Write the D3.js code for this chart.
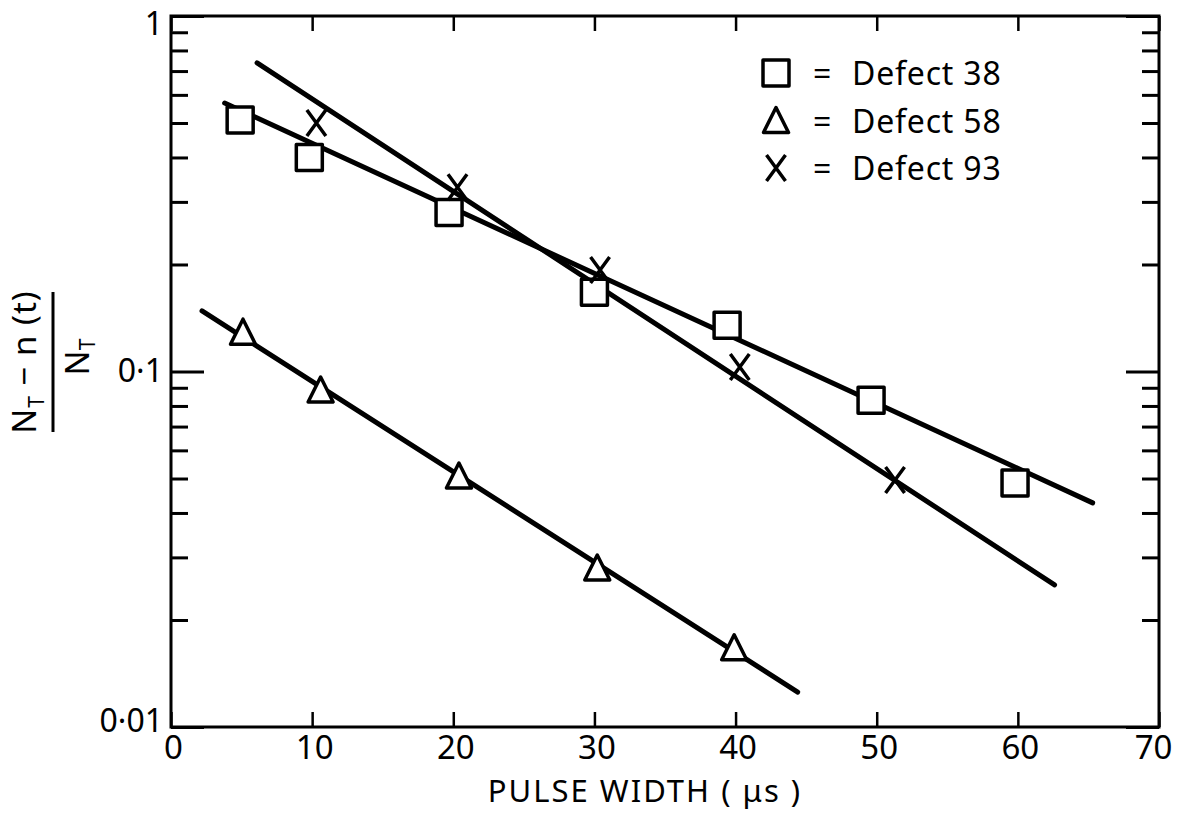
<!DOCTYPE html>
<html lang="en">
<head>
    <meta charset="UTF-8">
    <title>Pulse Width Decay</title>
    <script src="https://d3js.org/d3.v7.min.js"></script>
    <style>
        body { margin: 0; background: #fff; }
        text { font-family: "Noto Sans", "DejaVu Sans", sans-serif; fill: #000; }
    </style>
</head>
<body>
    <svg id="chart" width="1178" height="815"></svg>

    <script>
        // Tick values and labels
        const xTicks = [0, 10, 20, 30, 40, 50, 60, 70];
        const yMajor = [0.01, 0.1, 1];
        const yMajorLabels = ["0·01", "0·1", "1"];
        const yMinor = [0.02, 0.03, 0.04, 0.05, 0.06, 0.07, 0.08, 0.09,
                        0.2, 0.3, 0.4, 0.5, 0.6, 0.7, 0.8, 0.9];

        // Measured points (pulse width in us, fraction)
        const defect38X = [4.9, 9.8, 19.7, 30.0, 39.4, 49.6, 59.8];
        const defect38Y = [0.51, 0.40, 0.28, 0.167, 0.135, 0.083, 0.0486];
        const defect58X = [5.1, 10.6, 20.4, 30.2, 39.9];
        const defect58Y = [0.129, 0.0887, 0.0508, 0.028, 0.0167];
        const defect93X = [10.3, 20.3, 30.4, 40.3, 51.3];
        const defect93Y = [0.50, 0.33, 0.193, 0.103, 0.0495];

        // Fitted straight lines (end points)
        const fit38X = [3.8, 65.3];
        const fit38Y = [0.569, 0.0427];
        const fit58X = [2.2, 44.4];
        const fit58Y = [0.148, 0.01254];
        const fit93X = [6.1, 62.6];
        const fit93Y = [0.738, 0.0251];

        const legendLabels = ["Defect 38", "Defect 58", "Defect 93"];

        // Plot frame
        const plotLeft = 171, plotRight = 1159, plotTop = 16, plotBottom = 727;

        const svg = d3.select("#chart");

        const x = d3.scaleLinear().domain([0, 70]).range([plotLeft, plotRight]);
        const y = d3.scaleLog().domain([0.01, 1]).range([plotBottom, plotTop]);

        // Bottom axis with labels
        svg.append("g")
            .attr("transform", "translate(0," + plotBottom + ")")
            .call(d3.axisBottom(x).tickValues(xTicks).tickSizeInner(-15).tickSizeOuter(0).tickPadding(9))
            .call(g => g.select(".domain").remove())
            .call(g => g.selectAll("line").attr("stroke-width", 2.5))
            .call(g => g.selectAll("text")
                .attr("x", d => d === 70 ? -6 : 2)
                .attr("font-size", 33)
                .attr("fill", "#000")
                .attr("font-family", "Noto Sans, DejaVu Sans, sans-serif"));

        // Top axis, ticks only
        svg.append("g")
            .attr("transform", "translate(0," + plotTop + ")")
            .call(d3.axisTop(x).tickValues(xTicks).tickSizeInner(-15).tickSizeOuter(0).tickFormat(""))
            .call(g => g.select(".domain").remove())
            .call(g => g.selectAll("line").attr("stroke-width", 2.5));

        // Left axis: major ticks with labels
        const labelShift = [-6, 0, 8];
        svg.append("g")
            .attr("transform", "translate(" + plotLeft + ",0)")
            .call(d3.axisLeft(y).tickValues(yMajor).tickSizeInner(-33).tickSizeOuter(0).tickPadding(8)
                .tickFormat((d, i) => yMajorLabels[i]))
            .call(g => g.select(".domain").remove())
            .call(g => g.selectAll("line").attr("stroke-width", 3))
            .call(g => g.selectAll("text")
                .attr("y", (d, i) => labelShift[i])
                .attr("font-size", 32)
                .attr("fill", "#000")
                .attr("font-family", "Noto Sans, DejaVu Sans, sans-serif"));

        // Left axis: minor ticks
        svg.append("g")
            .attr("transform", "translate(" + plotLeft + ",0)")
            .call(d3.axisLeft(y).tickValues(yMinor).tickSizeInner(-17).tickSizeOuter(0).tickFormat(""))
            .call(g => g.select(".domain").remove())
            .call(g => g.selectAll("line").attr("stroke-width", 3));

        // Right axis: major and minor ticks
        svg.append("g")
            .attr("transform", "translate(" + plotRight + ",0)")
            .call(d3.axisRight(y).tickValues(yMajor).tickSizeInner(-33).tickSizeOuter(0).tickFormat(""))
            .call(g => g.select(".domain").remove())
            .call(g => g.selectAll("line").attr("stroke-width", 3));

        svg.append("g")
            .attr("transform", "translate(" + plotRight + ",0)")
            .call(d3.axisRight(y).tickValues(yMinor).tickSizeInner(-17).tickSizeOuter(0).tickFormat(""))
            .call(g => g.select(".domain").remove())
            .call(g => g.selectAll("line").attr("stroke-width", 3));

        // Frame
        svg.append("rect")
            .attr("x", plotLeft)
            .attr("y", plotTop)
            .attr("width", plotRight - plotLeft)
            .attr("height", plotBottom - plotTop)
            .attr("fill", "none")
            .attr("stroke", "#000")
            .attr("stroke-width", 3);

        // Fit lines
        const fits = [[fit38X, fit38Y], [fit58X, fit58Y], [fit93X, fit93Y]];
        const line = d3.line().x(d => x(d[0])).y(d => y(d[1]));
        fits.forEach(f => {
            svg.append("path")
                .datum(d3.zip(f[0], f[1]))
                .attr("d", line)
                .attr("fill", "none")
                .attr("stroke", "#000")
                .attr("stroke-width", 5)
                .attr("stroke-linecap", "round");
        });

        // Marker shapes
        const squarePath = "M-13,-13H13V13H-13Z";
        const trianglePath = "M0,-13L12.5,12L-12.5,12Z";
        const crossPath = "M-9.5,-13L9.5,13M9.5,-13L-9.5,13";

        function drawMarkers(xs, ys, path, fill) {
            svg.append("g")
                .selectAll("path")
                .data(d3.zip(xs, ys))
                .enter().append("path")
                .attr("transform", d => "translate(" + x(d[0]) + "," + y(d[1]) + ")")
                .attr("d", path)
                .attr("fill", fill)
                .attr("stroke", "#000")
                .attr("stroke-width", 3.5)
                .attr("stroke-linejoin", "round");
        }

        drawMarkers(defect38X, defect38Y, squarePath, "#fff");
        drawMarkers(defect58X, defect58Y, trianglePath, "#fff");
        drawMarkers(defect93X, defect93Y, crossPath, "none");

        // Legend
        const legendPaths = [squarePath, trianglePath, crossPath];
        const legendFills = ["#fff", "#fff", "none"];
        const legend = svg.append("g");
        legendLabels.forEach((label, i) => {
            const by = 85 + i * 47.5;
            legend.append("path")
                .attr("transform", "translate(776," + (by - 12) + ")")
                .attr("d", legendPaths[i])
                .attr("fill", legendFills[i])
                .attr("stroke", "#000")
                .attr("stroke-width", 3.5)
                .attr("stroke-linejoin", "round");
            legend.append("text")
                .attr("x", 813)
                .attr("y", by)
                .attr("font-size", 32)
                .text("=");
            legend.append("text")
                .attr("x", 852)
                .attr("y", by)
                .attr("font-size", 32)
                .attr("letter-spacing", 0.8)
                .text(label);
        });

        // X axis title
        svg.append("text")
            .attr("x", 645)
            .attr("y", 802)
            .attr("text-anchor", "middle")
            .attr("font-size", 31)
            .attr("letter-spacing", 2)
            .text("PULSE WIDTH ( μs )");

        // Y axis title as a rotated fraction
        const yTitle = svg.append("g")
            .attr("transform", "translate(0,362) rotate(-90)");

        const num = yTitle.append("text")
            .attr("x", 0)
            .attr("y", 36)
            .attr("text-anchor", "middle")
            .attr("font-size", 33)
            .attr("letter-spacing", 1);
        num.append("tspan").text("N");
        num.append("tspan").attr("font-size", 21).attr("dy", 8).text("T");
        num.append("tspan").attr("dy", -8).text(" − n (t)");

        yTitle.append("line")
            .attr("x1", -70)
            .attr("x2", 70)
            .attr("y1", 53)
            .attr("y2", 53)
            .attr("stroke", "#000")
            .attr("stroke-width", 3);

        const den = yTitle.append("text")
            .attr("x", 5)
            .attr("y", 89)
            .attr("text-anchor", "middle")
            .attr("font-size", 33);
        den.append("tspan").text("N");
        den.append("tspan").attr("font-size", 21).attr("dy", 6).text("T");
    </script>
</body>
</html>
